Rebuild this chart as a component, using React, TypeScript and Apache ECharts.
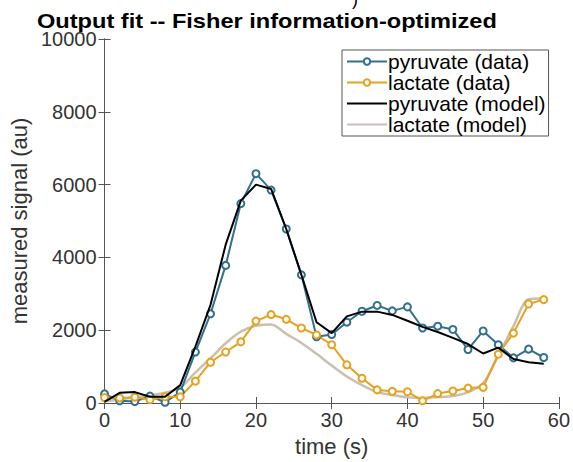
import React, { useEffect, useRef } from "react";
import * as echarts from "echarts";

const times = [0, 2, 4, 6, 8, 10, 12, 14, 16, 18, 20, 22, 24, 26, 28, 30, 32, 34, 36, 38, 40, 42, 44, 46, 48, 50, 52, 54, 56, 58];
const pyruvateData = [250, 60, 40, 190, 20, 300, 1400, 2450, 3780, 5480, 6300, 5850, 4780, 3520, 1820, 1880, 2220, 2520, 2680, 2530, 2640, 2060, 2110, 2020, 1470, 1980, 1600, 1240, 1480, 1250];
const lactateData = [150, 140, 160, 90, 170, 170, 600, 1120, 1400, 1680, 2250, 2430, 2300, 2060, 1870, 1600, 1050, 680, 360, 320, 310, 60, 260, 330, 410, 430, 1340, 1920, 2720, 2840];
const pyruvateModel = [30, 280, 300, 170, 170, 490, 1550, 2700, 4350, 5560, 6000, 5880, 4780, 3520, 2220, 1920, 2380, 2510, 2510, 2420, 2260, 2090, 1950, 1790, 1620, 1360, 1520, 1210, 1120, 1080];
const lactateModel = [40, 100, 160, 210, 280, 420, 840, 1230, 1640, 1960, 2120, 2160, 1900, 1650, 1350, 1030, 730, 490, 300, 220, 160, 140, 160, 190, 300, 540, 1300, 2110, 2850, 2870];
const seriesNames = ["pyruvate (data)", "lactate (data)", "pyruvate (model)", "lactate (model)"];
const titleText = "Output fit -- Fisher information-optimized";

const BLUE = "#31708f";
const ORANGE = "#e5a21f";
const BEIGE = "#c8c0b0";
const FONT = "Liberation Sans";

const pairs = (ys: number[]) => times.map((t, i) => [t, ys[i]]);
const lineIcon = "path://M0,0 L40,0 L40,2 L0,2 Z";

export default function App() {
  const ref = useRef<HTMLDivElement>(null);
  useEffect(() => {
    document.body.style.margin = "0";
    const chart = echarts.init(ref.current!, null, { renderer: "svg" });
    const axisLine = { show: true, lineStyle: { color: "#555", width: 1 } };
    const tickStyle = { show: true, inside: true, length: 6, lineStyle: { color: "#555" } };
    const fmt = (v: number) => String(v);
    chart.setOption({
      animation: false,
      backgroundColor: "#fff",
      textStyle: { fontFamily: FONT },
      graphic: [
        {
          type: "text",
          x: 37,
          y: 11,
          scaleX: 1.18,
          style: { text: titleText, font: "bold 20px Liberation Sans", fill: "#000" },
        },
        { type: "text", x: 352, y: -10, style: { text: ")", font: "18px Liberation Sans", fill: "#000" } },
      ],
      grid: { left: 103, right: 13, top: 39, bottom: 53, containLabel: false },
      legend: {
        orient: "vertical",
        left: 342,
        top: 50,
        data: [
          { name: seriesNames[0] },
          { name: seriesNames[1] },
          { name: seriesNames[2], icon: lineIcon, symbolKeepAspect: true, itemStyle: { color: "#000" } },
          { name: seriesNames[3], icon: lineIcon, symbolKeepAspect: true, itemStyle: { color: BEIGE } },
        ],
        backgroundColor: "#fff",
        borderColor: "#555",
        borderWidth: 1,
        padding: [1, 3, 1, 4],
        itemGap: 0,
        itemWidth: 40,
        itemHeight: 8,
        textStyle: { fontFamily: FONT, fontSize: 21, color: "#000", padding: [0, 0, 0, -4] },
      },
      xAxis: [
        {
          type: "value",
          min: 0,
          max: 60,
          interval: 10,
          name: "time (s)",
          nameLocation: "middle",
          nameGap: 32,
          nameTextStyle: { fontFamily: FONT, fontSize: 22, color: "#333" },
          axisLine,
          axisTick: tickStyle,
          axisLabel: { fontFamily: FONT, fontSize: 20, color: "#333", margin: 7, formatter: fmt },
          splitLine: { show: false },
        },
        {
          type: "value",
          position: "top",
          min: 0,
          max: 60,
          interval: 10,
          axisLine,
          axisTick: tickStyle,
          axisLabel: { show: false },
          splitLine: { show: false },
        },
      ],
      yAxis: [
        {
          type: "value",
          min: 0,
          max: 10000,
          interval: 2000,
          name: "measured signal (au)",
          nameLocation: "middle",
          nameGap: 70,
          nameTextStyle: { fontFamily: FONT, fontSize: 22, color: "#333" },
          axisLine,
          axisTick: tickStyle,
          axisLabel: { fontFamily: FONT, fontSize: 20, color: "#333", margin: 8, formatter: fmt },
          splitLine: { show: false },
        },
        {
          type: "value",
          position: "right",
          min: 0,
          max: 10000,
          interval: 2000,
          axisLine,
          axisTick: tickStyle,
          axisLabel: { show: false },
          splitLine: { show: false },
        },
      ],
      series: [
        {
          name: seriesNames[0],
          type: "line",
          data: pairs(pyruvateData),
          symbol: "circle",
          symbolSize: 7,
          showAllSymbol: true,
          itemStyle: { color: "#fff", borderColor: BLUE, borderWidth: 2 },
          lineStyle: { color: BLUE, width: 2 },
          z: 3,
        },
        {
          name: seriesNames[1],
          type: "line",
          data: pairs(lactateData),
          symbol: "circle",
          symbolSize: 7,
          showAllSymbol: true,
          itemStyle: { color: "#fff", borderColor: ORANGE, borderWidth: 2 },
          lineStyle: { color: ORANGE, width: 2 },
          z: 3,
        },
        {
          name: seriesNames[2],
          type: "line",
          data: pairs(pyruvateModel),
          showSymbol: false,
          symbol: "none",
          itemStyle: { color: "#000" },
          lineStyle: { color: "#000", width: 2 },
          z: 4,
        },
        {
          name: seriesNames[3],
          type: "line",
          data: pairs(lactateModel),
          showSymbol: false,
          symbol: "none",
          smooth: 0.3,
          itemStyle: { color: BEIGE },
          lineStyle: { color: BEIGE, width: 2.5 },
          z: 2,
        },
      ],
    });
    return () => chart.dispose();
  }, []);
  return <div ref={ref} style={{ width: 573, height: 462 }} />;
}
